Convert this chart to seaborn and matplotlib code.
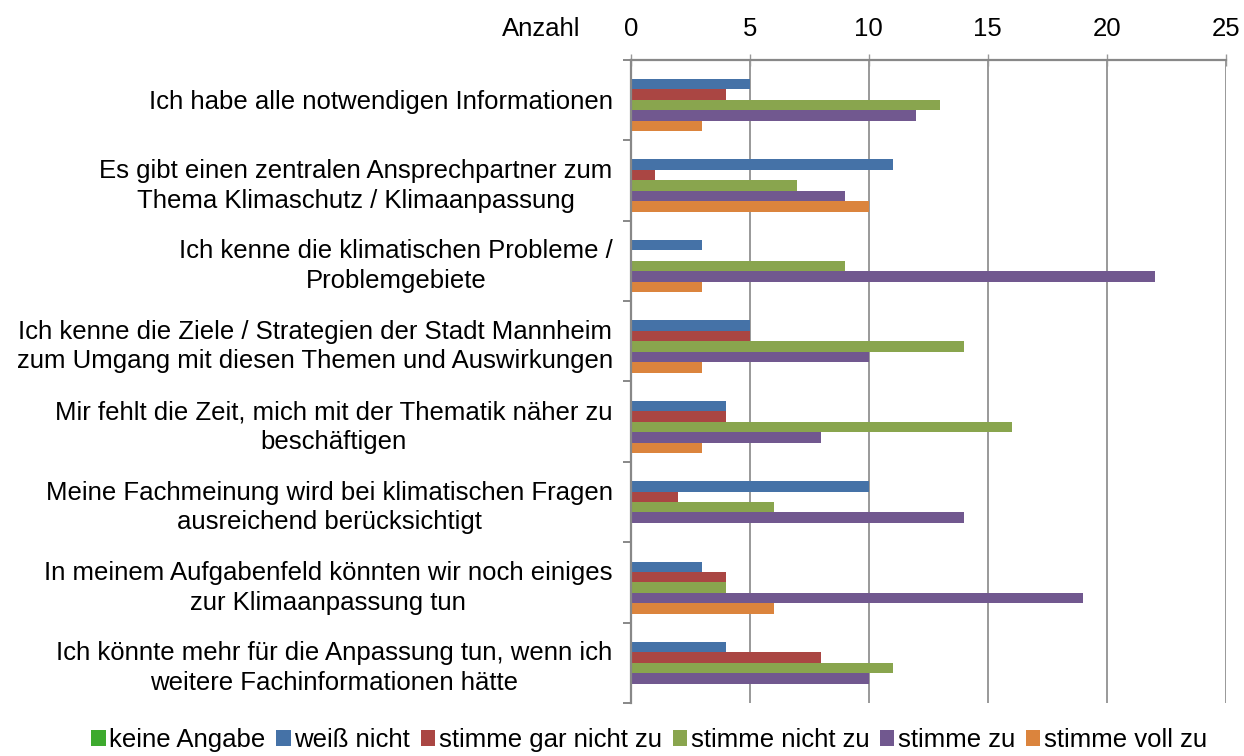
import numpy as np
import pandas as pd
import matplotlib
matplotlib.use("Agg")
import matplotlib.pyplot as plt
from matplotlib.patches import Patch
import seaborn as sns

# Survey statements (y categories)
statements = [
    "Ich habe alle notwendigen Informationen",
    "Es gibt einen zentralen Ansprechpartner zum\nThema Klimaschutz / Klimaanpassung",
    "Ich kenne die klimatischen Probleme /\nProblemgebiete",
    "Ich kenne die Ziele / Strategien der Stadt Mannheim\nzum Umgang mit diesen Themen und Auswirkungen",
    "Mir fehlt die Zeit, mich mit der Thematik näher zu\nbeschäftigen",
    "Meine Fachmeinung wird bei klimatischen Fragen\nausreichend berücksichtigt",
    "In meinem Aufgabenfeld könnten wir noch einiges\nzur Klimaanpassung tun",
    "Ich könnte mehr für die Anpassung tun, wenn ich\nweitere Fachinformationen hätte",
]

# Answer categories (hue) and their counts per statement
answers = ["keine Angabe", "weiß nicht", "stimme gar nicht zu",
           "stimme nicht zu", "stimme zu", "stimme voll zu"]
keine_angabe = [0, 0, 0, 0, 0, 0, 0, 0]
weiss_nicht = [5, 11, 3, 5, 4, 10, 3, 4]
gar_nicht_zu = [4, 1, 0, 5, 4, 2, 4, 8]
nicht_zu = [13, 7, 9, 14, 16, 6, 4, 11]
stimme_zu = [12, 9, 22, 10, 8, 14, 19, 10]
voll_zu = [3, 10, 3, 3, 3, 0, 6, 0]

x_ticks = [0, 5, 10, 15, 20, 25]

palette = ["#3DAA2E", "#4572A7", "#AA4643", "#89A54E", "#71588F", "#DB843D"]

series = [keine_angabe, weiss_nicht, gar_nicht_zu, nicht_zu, stimme_zu, voll_zu]
rows = []
for ans, vals in zip(answers, series):
    for st, v in zip(statements, vals):
        rows.append({"Aussage": st, "Antwort": ans, "Anzahl": v})
df = pd.DataFrame(rows)

sns.set_theme(style="white")
plt.rcParams["font.family"] = ["Liberation Sans", "DejaVu Sans"]
plt.rcParams["text.color"] = "black"

FS = 18.5

fig = plt.figure(figsize=(12.44, 7.56), dpi=100)
ax = fig.add_axes([0.507, 0.070, 0.4785, 0.851])

sns.barplot(data=df, y="Aussage", x="Anzahl", hue="Antwort",
            order=statements, hue_order=answers, palette=palette,
            orient="h", width=0.78, linewidth=0, saturation=1,
            legend=False, ax=ax)

ax.set_xlim(0, 25)
ax.set_ylim(len(statements) - 0.5, -0.5)
ax.set_xticks(x_ticks)
ax.set_xticklabels([str(t) for t in x_ticks])
ax.xaxis.tick_top()
ax.set_xlabel("")
ax.set_ylabel("")

grid_color = "#999999"
ax.grid(axis="x", color=grid_color, linewidth=1.4)
ax.set_axisbelow(True)
for side in ["right", "bottom"]:
    ax.spines[side].set_visible(False)
for side in ["top", "left"]:
    ax.spines[side].set_color("#888888")
    ax.spines[side].set_linewidth(1.6)

ax.tick_params(axis="x", which="major", top=True, bottom=False,
               direction="inout", length=9, width=1, color=grid_color,
               labelsize=FS, pad=9, labelcolor="black")

# category separators on the left axis
ax.set_yticks(np.arange(-0.5, len(statements), 1.0), minor=True)
ax.tick_params(axis="y", which="minor", left=True, length=6, width=1.4,
               color="#888888", direction="out")
ax.tick_params(axis="y", which="major", left=False, length=0,
               labelsize=FS, pad=13, labelcolor="black")
for lbl in ax.get_yticklabels():
    lbl.set_multialignment("center")
    lbl.set_linespacing(1.3)

fig.text(0.467, 0.962, "Anzahl", ha="right", va="center", fontsize=FS,
         color="black")

handles = [Patch(facecolor=c, edgecolor="none") for c in palette]
fig.legend(handles, answers, loc="center", bbox_to_anchor=(0.522, 0.021),
           ncol=6, frameon=False, fontsize=FS, handlelength=0.55,
           handleheight=0.55, handletextpad=0.15, columnspacing=0.42,
           labelcolor="black")

fig.savefig("out.png", dpi=100, facecolor="white")
